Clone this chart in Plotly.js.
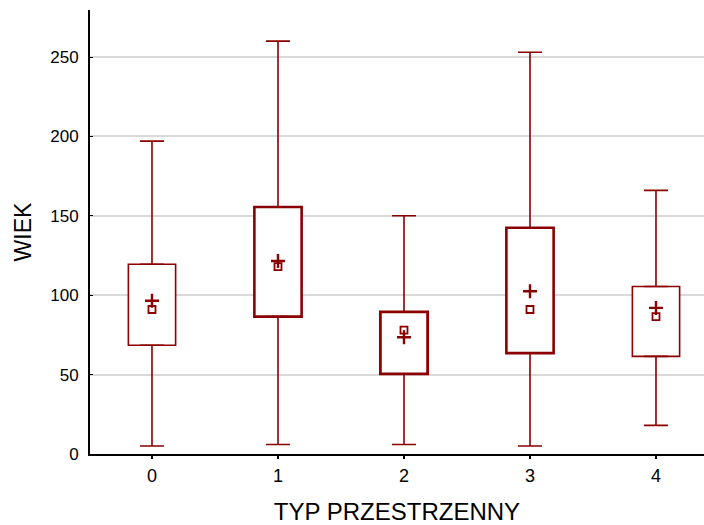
<!DOCTYPE html>
<html><head><meta charset="utf-8">
<script src="https://cdn.plot.ly/plotly-3.0.1.min.js"></script>
<style>html,body{margin:0;padding:0;background:#fff}</style>
</head><body><div id="chart" style="width:704px;height:525px"></div>
<script>
const categories = [0, 1, 2, 3, 4];
const minVals = [5, 6, 6, 5, 18];
const q1Vals = [68.5, 86.5, 50.5, 63.5, 61.5];
const medianVals = [91, 118, 78, 91, 86.5];
const meanVals = [96.5, 121.5, 73.5, 102.5, 92];
const q3Vals = [119.5, 155.5, 89.5, 142.5, 105.5];
const maxVals = [197, 260, 150, 253, 166];
const boxLineWidths = [1.6, 2.6, 2.8, 2.6, 1.6];

const red = '#8b0000';

const boxes = {
  type: 'bar', x: categories, base: q1Vals,
  y: q3Vals.map((v, i) => v - q1Vals[i]),
  width: 0.375,
  marker: {color: '#ffffff', line: {color: red, width: boxLineWidths}},
  hoverinfo: 'skip', showlegend: false
};
const upperWhisk = {
  type: 'scatter', mode: 'markers', x: categories, y: q3Vals,
  marker: {opacity: 0, size: 1},
  error_y: {type: 'data', symmetric: false, array: maxVals.map((v, i) => v - q3Vals[i]),
    arrayminus: categories.map(() => 0), color: red, thickness: 1.6, width: 12},
  showlegend: false, hoverinfo: 'skip'
};
const lowerWhisk = {
  type: 'scatter', mode: 'markers', x: categories, y: q1Vals,
  marker: {opacity: 0, size: 1},
  error_y: {type: 'data', symmetric: false, array: categories.map(() => 0),
    arrayminus: q1Vals.map((v, i) => v - minVals[i]), color: red, thickness: 1.6, width: 12},
  showlegend: false, hoverinfo: 'skip'
};
const medians = {
  type: 'scatter', mode: 'markers', x: categories, y: medianVals,
  marker: {symbol: 'square-open', size: 7, color: red, line: {width: 1.8, color: red}},
  showlegend: false
};
const means = {
  type: 'scatter', mode: 'markers', x: categories, y: meanVals,
  marker: {symbol: 'cross-thin-open', size: 10, color: red, line: {width: 2.4, color: red}},
  showlegend: false
};

const layout = {
  width: 704, height: 525,
  margin: {l: 90, r: 0, t: 10, b: 71},
  paper_bgcolor: '#ffffff', plot_bgcolor: '#ffffff',
  font: {family: 'Liberation Sans, Arial, sans-serif', color: '#000000'},
  bargap: 0,
  xaxis: {
    range: [-0.492, 4.381], tickmode: 'array', tickvals: categories, ticktext: categories.map(String),
    showgrid: false, zeroline: false, showline: true, linecolor: '#000', linewidth: 2,
    ticks: 'outside', ticklen: 3, tickcolor: '#000', tickwidth: 2,
    tickfont: {size: 18, family: 'Liberation Sans, Arial, sans-serif', color: '#000'}, ticklabelstandoff: 1,
    title: {text: 'TYP PRZESTRZENNY', font: {size: 24}, standoff: 22}
  },
  xaxis2: {
    overlaying: 'x', side: 'top', range: [-0.492, 4.381],
    tickmode: 'array', tickvals: categories, showticklabels: false, showgrid: false, zeroline: false,
    showline: true, linecolor: '#000', linewidth: 2,
    ticks: 'inside', ticklen: 3, tickcolor: '#000', tickwidth: 2
  },
  yaxis: {
    range: [0, 279.6], tickvals: [0, 50, 100, 150, 200, 250],
    showgrid: true, gridcolor: '#d9d9d9', gridwidth: 2, zeroline: false,
    showline: true, linecolor: '#000', linewidth: 2,
    ticks: 'inside', ticklen: 3, tickcolor: '#000', tickwidth: 1,
    tickfont: {size: 17}, ticklabelstandoff: 6,
    title: {text: 'WIEK', font: {size: 23}, standoff: 12}
  }
};

Plotly.newPlot('chart', [boxes, upperWhisk, lowerWhisk, medians, means], layout, {displayModeBar: false, staticPlot: true});
</script></body></html>
